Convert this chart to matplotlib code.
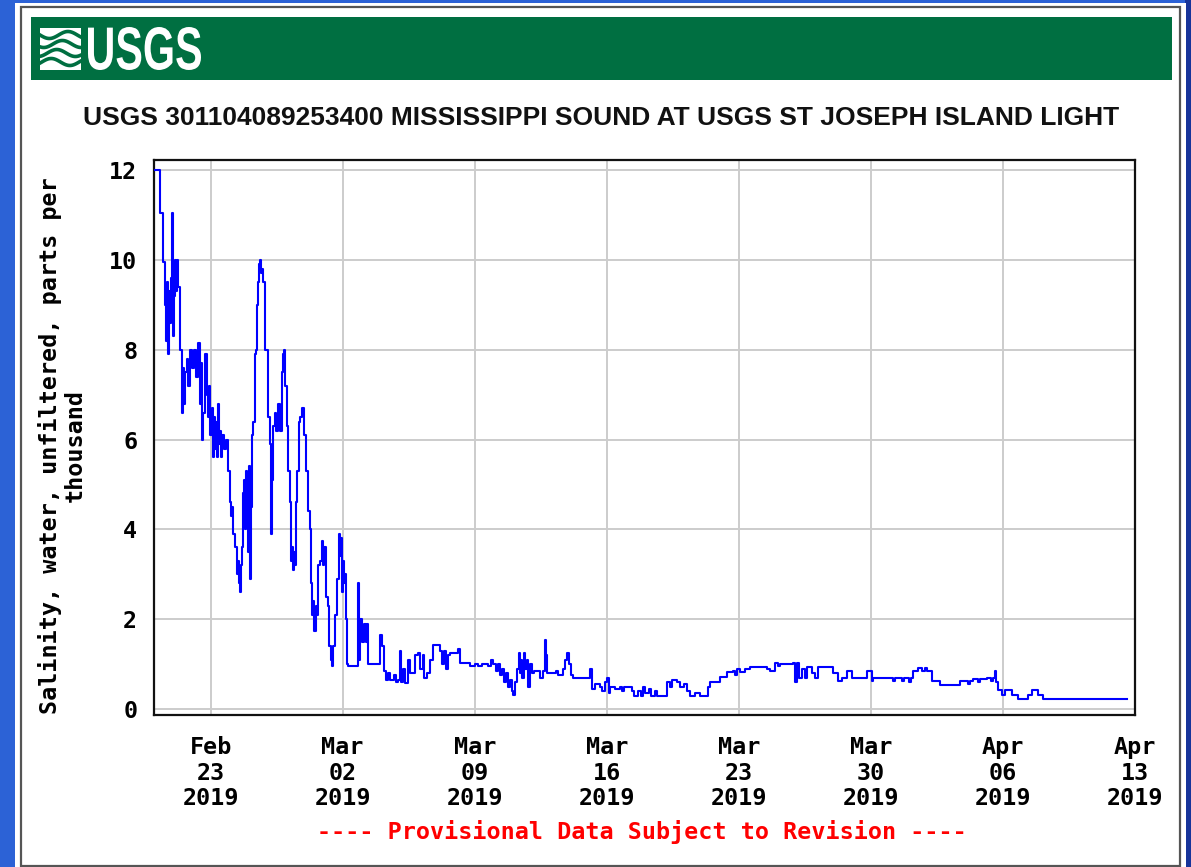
import numpy as np
import pandas as pd
import matplotlib
matplotlib.use('Agg')
import matplotlib.pyplot as plt
import matplotlib.dates as mdates
from matplotlib.patches import Rectangle, PathPatch
from matplotlib.textpath import TextPath
from matplotlib.font_manager import FontProperties
from matplotlib.transforms import Affine2D

# salinity record, days after 2019-02-20 00:00 (step series)
days = [
    0.05, 0.32, 0.48, 0.58, 0.64, 0.69, 0.74, 0.80, 0.85, 0.90, 0.95, 1.01, 1.06, 1.11,
    1.17, 1.22, 1.27, 1.38, 1.48, 1.54, 1.59, 1.64, 1.75, 1.80, 1.91, 2.02, 2.12, 2.23,
    2.33, 2.44, 2.49, 2.55, 2.60, 2.70, 2.81, 2.86, 2.92, 2.97, 3.08, 3.13, 3.18, 3.23,
    3.29, 3.34, 3.39, 3.45, 3.50, 3.55, 3.61, 3.71, 3.82, 3.92, 4.03, 4.08, 4.14, 4.19,
    4.30, 4.40, 4.45, 4.51, 4.56, 4.61, 4.67, 4.72, 4.77, 4.83, 4.88, 4.93, 4.98, 5.04,
    5.09, 5.14, 5.20, 5.25, 5.36, 5.41, 5.46, 5.52, 5.57, 5.62, 5.67, 5.73, 5.78, 5.89,
    6.05, 6.15, 6.20, 6.26, 6.31, 6.42, 6.47, 6.58, 6.68, 6.79, 6.84, 6.89, 6.95, 7.05,
    7.11, 7.21, 7.27, 7.32, 7.37, 7.42, 7.48, 7.53, 7.58, 7.69, 7.74, 7.85, 7.95, 8.06,
    8.17, 8.27, 8.33, 8.38, 8.43, 8.48, 8.59, 8.64, 8.70, 8.80, 8.91, 8.96, 9.02, 9.12,
    9.23, 9.28, 9.39, 9.44, 9.49, 9.60, 9.70, 9.81, 9.86, 9.92, 9.97, 10.02, 10.08, 10.13,
    10.18, 10.23, 10.29, 10.82, 10.87, 10.92, 11.03, 11.14, 11.24, 11.30, 11.35, 11.88,
    11.98, 12.09, 12.20, 12.30, 12.41, 12.52, 12.73, 12.83, 12.94, 13.05, 13.10, 13.20,
    13.31, 13.47, 13.58, 13.84, 14.00, 14.11, 14.27, 14.32, 14.48, 14.64, 14.80, 15.17,
    15.27, 15.38, 15.48, 15.59, 15.70, 16.12, 16.23, 16.76, 17.02, 17.18, 17.39, 17.71,
    17.87, 17.98, 18.14, 18.24, 18.35, 18.45, 18.56, 18.67, 18.77, 18.88, 18.98, 19.04,
    19.14, 19.25, 19.36, 19.41, 19.46, 19.52, 19.62, 19.67, 19.78, 19.83, 19.94, 20.05,
    20.15, 20.47, 20.63, 20.73, 20.79, 20.84, 21.27, 21.32, 21.42, 21.69, 21.80, 21.90,
    22.01, 22.11, 22.22, 23.12, 23.23, 23.39, 23.65, 23.76, 23.92, 24.02, 24.13, 24.18,
    24.45, 24.71, 24.82, 24.92, 25.35, 25.45, 25.67, 25.83, 25.93, 26.04, 26.25, 26.36,
    26.57, 26.67, 27.10, 27.20, 27.36, 27.47, 27.73, 27.89, 28.11, 28.26, 28.42, 28.69,
    28.95, 29.38, 29.48, 30.01, 30.39, 30.70, 30.81, 30.92, 31.08, 31.34, 31.61, 32.14,
    32.51, 32.67, 32.93, 33.09, 33.20, 33.89, 33.99, 34.10, 34.20, 34.36, 34.52, 34.63,
    34.89, 35.05, 35.21, 36.01, 36.27, 36.48, 36.75, 37.01, 37.81, 38.08, 38.13, 39.19,
    39.30, 39.67, 39.77, 40.04, 40.14, 40.25, 40.51, 40.73, 40.89, 40.99, 41.26, 41.68,
    42.74, 43.17, 43.27, 43.43, 43.70, 43.80, 44.17, 44.39, 44.49, 44.60, 44.65, 44.76,
    44.97, 45.13, 45.50, 45.82, 46.35, 46.56, 46.88, 47.14, 51.60,
]
salinity = [
    12.0, 11.05, 9.95, 9.0, 8.2, 9.5, 7.9, 9.3, 8.6, 9.6, 11.05, 8.3, 9.2, 10.0,
    9.3, 10.0, 9.4, 8.0, 6.6, 7.6, 6.8, 7.5, 7.8, 7.2, 8.0, 7.6, 8.0, 7.4,
    8.15, 6.8, 7.7, 6.0, 6.6, 7.9, 7.0, 6.5, 7.2, 6.1, 6.7, 5.6, 6.5, 5.8,
    6.4, 5.6, 6.8, 5.9, 6.2, 5.6, 6.1, 5.8, 6.0, 5.3, 4.6, 4.3, 4.5, 3.9,
    3.6, 3.0, 3.3, 2.8, 2.6, 3.2, 3.6, 4.8, 5.1, 4.0, 5.3, 4.7, 3.5, 5.4,
    2.9, 4.5, 6.1, 6.4, 7.9, 8.0, 9.0, 9.5, 9.9, 10.0, 9.7, 9.8, 9.5, 8.0,
    6.5, 5.9, 3.9, 5.1, 6.3, 6.6, 6.2, 6.8, 6.2, 7.5, 7.9, 8.0, 7.2, 6.3,
    5.3, 4.6, 3.3, 3.6, 3.1, 3.5, 3.2, 4.6, 5.3, 6.4, 6.5, 6.7, 6.1, 5.3,
    4.4, 4.0, 2.8, 2.1, 2.4, 1.75, 2.3, 2.1, 3.2, 3.3, 3.75, 3.2, 3.6, 2.5,
    2.3, 1.4, 1.1, 0.95, 1.4, 2.1, 2.9, 3.9, 3.4, 3.8, 2.6, 3.3, 2.8, 3.0,
    2.0, 1.0, 0.95, 2.8, 1.1, 2.0, 1.5, 1.9, 1.5, 1.9, 1.0, 1.0,
    1.65, 1.4, 0.85, 0.65, 0.8, 0.65, 0.75, 0.6, 0.65, 1.3, 0.6, 0.9,
    0.58, 1.1, 0.8, 1.2, 1.24, 0.9, 1.2, 0.7, 0.8, 1.1, 1.42, 1.3,
    1.0, 1.3, 0.9, 1.2, 1.24, 1.33, 1.03, 0.97, 1.0, 0.95, 1.0, 0.95,
    1.1, 1.0, 0.85, 1.0, 0.75, 0.9, 0.6, 0.8, 0.5, 0.64, 0.4, 0.31,
    0.6, 0.9, 1.24, 0.8, 1.1, 0.7, 1.24, 0.9, 1.1, 0.5, 1.0, 0.8,
    0.85, 0.7, 0.85, 1.53, 1.2, 0.8, 0.8, 0.85, 0.75, 0.9, 1.1, 1.24,
    1.0, 0.75, 0.7, 0.9, 0.44, 0.55, 0.5, 0.4, 0.6, 0.7, 0.35, 0.5,
    0.45, 0.5, 0.4, 0.5, 0.4, 0.3, 0.4, 0.3, 0.5, 0.35, 0.45, 0.3,
    0.4, 0.3, 0.3, 0.6, 0.5, 0.65, 0.6, 0.5, 0.55, 0.4, 0.3, 0.35,
    0.29, 0.5, 0.6, 0.71, 0.82, 0.85, 0.75, 0.9, 0.82, 0.9, 0.94, 0.94,
    0.9, 0.85, 1.02, 0.95, 1.0, 1.02, 0.6, 1.02, 0.7, 0.9, 0.7, 0.94,
    0.8, 0.7, 0.94, 0.8, 0.62, 0.7, 0.84, 0.7, 0.84, 0.62, 0.7,
    0.62, 0.7, 0.62, 0.7, 0.6, 0.7, 0.84, 0.92, 0.84, 0.92, 0.84, 0.63,
    0.53, 0.62, 0.55, 0.62, 0.68, 0.6, 0.68, 0.7, 0.62, 0.7, 0.86, 0.6,
    0.42, 0.31, 0.42, 0.31, 0.22, 0.31, 0.42, 0.31, 0.22, 0.22,
]

start = pd.Timestamp('2019-02-20')
end = pd.Timestamp('2019-04-13')
tick_dates = pd.date_range('2019-02-23', '2019-04-13', freq='7D')
yticks = [0, 2, 4, 6, 8, 10, 12]

title = 'USGS 301104089253400 MISSISSIPPI SOUND AT USGS ST JOSEPH ISLAND LIGHT'
ylabel = 'Salinity, water, unfiltered, parts per\nthousand'
note = '---- Provisional Data Subject to Revision ----'

W, H = 1191, 867
MONO = 16.8
fig = plt.figure(figsize=(W / 100, H / 100), dpi=100)
fig.patch.set_facecolor('#2c62d6')


def px_rect(x0, y0, x1, y1, **kw):
    # rectangle given in pixel coords (top-left origin)
    r = Rectangle((x0 / W, 1 - y1 / H), (x1 - x0) / W, (y1 - y0) / H,
                  transform=fig.transFigure, **kw)
    fig.add_artist(r)
    return r


# slide background bits + white panel (kept behind the axes)
px_rect(1185, 0, W, H, facecolor='#17349a', edgecolor='none', zorder=-10)
px_rect(15, 3, 1186, H, facecolor='white', edgecolor='none', zorder=-9)
px_rect(21, 7, 1180, 866, facecolor='none', edgecolor='#555555', linewidth=1.6,
        zorder=-8)

# green header banner
px_rect(31, 17, 1172, 80, facecolor='#006f41', edgecolor='none', zorder=-8)

# wave icon of the logo
ix0, ix1, iy0, iy1 = 40, 81, 28, 70
px_rect(ix0, iy0, ix1, iy1, facecolor='white', edgecolor='none', zorder=-7)
t = np.linspace(0, 1, 60)
for k, yoff in enumerate([35, 44, 53, 62]):
    xs = ix0 + t * (ix1 - ix0)
    ys = yoff + 3.5 * np.sin(2 * np.pi * (t * 1.1 + 0.15 * k))
    fig.add_artist(plt.Line2D(xs / W, 1 - ys / H, transform=fig.transFigure,
                              color='#006f41', linewidth=2.6, zorder=-6))

# condensed "USGS" word mark, squeezed into its box
tp = TextPath((0, 0), 'USGS', size=50,
              prop=FontProperties(family='Liberation Sans', weight='bold'))
ext = tp.get_extents()
bx0, bx1, by0, by1 = 88, 201, 27, 70
sx = (bx1 - bx0) / ext.width
sy = (by1 - by0) / ext.height
tr = (Affine2D().translate(-ext.x0, -ext.y0).scale(sx, sy)
      .translate(bx0, H - by1))
fig.add_artist(PathPatch(tp, transform=tr, facecolor='white', edgecolor='none',
                         zorder=-6))

# title
fig.text(601 / W, 1 - 118 / H, title, ha='center', va='center', fontsize=19,
         fontweight='bold', family=['Liberation Sans', 'DejaVu Sans'], color='#111111')

# main axes
ax = fig.add_axes([154 / W, 1 - 715 / H, (1135 - 154) / W, (715 - 160) / H])
ax.set_facecolor('white')
times = start + pd.to_timedelta(days, unit='D')
ax.step(times, salinity, where='post', color='#0000ff', linewidth=1.5, zorder=3)

ax.set_xlim(start, end)
ax.set_ylim(-0.13, 12.22)
ax.set_xticks(tick_dates)
ax.xaxis.set_major_formatter(mdates.DateFormatter('%b\n%d\n%Y'))
ax.set_yticks(yticks)
ax.grid(True, color='#cccccc', linewidth=1.4, zorder=0)
ax.set_axisbelow(True)
ax.tick_params(axis='both', length=0, labelsize=MONO)
ax.tick_params(axis='x', pad=15)
ax.tick_params(axis='y', pad=12)
for lab in ax.get_xticklabels() + ax.get_yticklabels():
    lab.set_family('DejaVu Sans Mono')
    lab.set_fontweight('bold')
    lab.set_linespacing(1.15)
for s in ax.spines.values():
    s.set_color('#111111')
    s.set_linewidth(1.6)

ax.set_ylabel(ylabel, family='DejaVu Sans Mono', fontweight='bold', fontsize=MONO,
              linespacing=1.1)
ax.yaxis.set_label_coords(-0.0685, 0.485)

fig.text(642 / W, 1 - 832 / H, note, ha='center', va='center', color='#ff0000',
         family='DejaVu Sans Mono', fontweight='bold', fontsize=MONO)

fig.savefig('out.png', dpi=100, facecolor=fig.get_facecolor())
